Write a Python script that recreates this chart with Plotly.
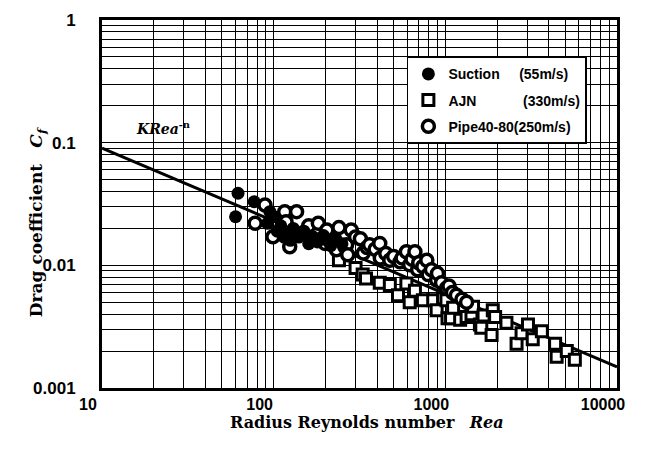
import numpy as np
import plotly.graph_objects as go

# ---------------- data ----------------
suction_re = [60, 62, 77, 95, 92, 100, 105, 110, 115, 120, 125, 130, 140, 150,
              160, 170, 180, 195, 205, 215, 230, 250]
suction_cf = [0.0249, 0.0387, 0.033, 0.0274, 0.022, 0.025, 0.019, 0.021, 0.017,
              0.0185, 0.016, 0.020, 0.017, 0.019, 0.015, 0.017, 0.0155, 0.0175,
              0.016, 0.0145, 0.0165, 0.015]

ajn_re = [240, 300, 330, 345, 415, 475, 530, 593, 620, 665, 740, 850, 890, 970,
          1015, 1030, 1080, 1110, 1220, 1330, 1420, 1450, 1590, 1620, 1670, 1860,
          1890, 1950, 2270, 2600, 2780, 3030, 3230, 3650, 4360, 4450, 5100, 5680]
ajn_cf = [0.011, 0.0095, 0.0084, 0.0078, 0.0072, 0.0069, 0.0057, 0.0071, 0.005,
          0.0062, 0.0052, 0.0052, 0.0043, 0.0054, 0.0052, 0.0037, 0.0037, 0.0045,
          0.0036, 0.0038, 0.0040, 0.0046, 0.0033, 0.0031, 0.0039, 0.0027, 0.0043,
          0.0038, 0.0034, 0.0023, 0.0028, 0.0033, 0.0025, 0.0029, 0.0023, 0.0018,
          0.0020, 0.0017]

pipe_re = [78, 89, 99, 116, 118, 124, 136, 152, 160, 182, 199, 204, 232, 240,
           260, 266, 270, 283, 300, 320, 333, 350, 362, 390, 415, 418, 450, 475,
           500, 545, 560, 593, 620, 640, 665, 690, 700, 740, 780, 795, 830, 890,
           900, 950, 1015, 1050, 1100, 1160, 1250, 1330]
pipe_cf = [0.022, 0.031, 0.0171, 0.0274, 0.0227, 0.0142, 0.0274, 0.0188, 0.021,
           0.022, 0.0151, 0.0194, 0.0134, 0.0203, 0.0142, 0.0147, 0.0122, 0.0194,
           0.017, 0.0165, 0.0126, 0.014, 0.0147, 0.0135, 0.0151, 0.0115, 0.0125,
           0.011, 0.0118, 0.0107, 0.0115, 0.0129, 0.0101, 0.0112, 0.0129, 0.0092,
           0.0105, 0.0098, 0.011, 0.0084, 0.0092, 0.0076, 0.0086, 0.0072, 0.0065,
           0.0068, 0.006, 0.0057, 0.0053, 0.0050]

# fitted curve  Cf = K * Rea^-n
K = 0.356
n_exp = 0.595
line_re = [10, 10000]

NB = "\u00a0"
x_ticks = [10, 100, 1000, 10000]
x_ticktext = ["10", "100", "1000", "10000"]
y_ticks = [0.001, 0.01, 0.1, 1]
y_ticktext = ["0.001", "0.01", "0.1", "1"]

legend_names = ["Suction" + NB * 5 + "(55m/s)",
                "AJN" + NB * 12 + "(330m/s)",
                "Pipe40-80(250m/s)"]

# ---------------- figure ----------------
line_cf = [K * r ** (-n_exp) for r in line_re]

fig = go.Figure()
fig.add_trace(go.Scatter(x=line_re, y=line_cf, mode="lines",
                         line=dict(color="black", width=3), showlegend=False,
                         hoverinfo="skip"))
fig.add_trace(go.Scatter(x=ajn_re, y=ajn_cf, mode="markers", name=legend_names[1],
                         legendrank=2, legendgroup="b",
                         marker=dict(symbol="square", size=11, color="white",
                                     line=dict(color="black", width=3))))
fig.add_trace(go.Scatter(x=pipe_re, y=pipe_cf, mode="markers", name=legend_names[2],
                         legendrank=3, legendgroup="c",
                         marker=dict(symbol="circle", size=12, color="white",
                                     line=dict(color="black", width=3.5))))
fig.add_trace(go.Scatter(x=suction_re, y=suction_cf, mode="markers", name=legend_names[0],
                         legendrank=1, legendgroup="a",
                         marker=dict(symbol="circle", size=13, color="black",
                                     line=dict(color="black", width=0))))

grid_w = 1.4
axis_common = dict(
    type="log", showgrid=True, gridcolor="black", gridwidth=grid_w,
    showline=True, linecolor="black", linewidth=3, mirror=True,
    ticks="", zeroline=False,
    minor=dict(dtick="D1", showgrid=True, gridcolor="black", gridwidth=grid_w, ticks=""),
)
tick_font = dict(family="Liberation Sans, Arial", size=17, color="black", weight="bold")

fig.update_xaxes(**axis_common, range=[1, 4], tickmode="array",
                 tickvals=x_ticks, ticktext=x_ticktext, ticklabelstandoff=0,
                 ticklabelshift=-14, tickfont=dict(tick_font, size=16))
fig.update_yaxes(**axis_common, range=[-3, 0], tickmode="array",
                 tickvals=y_ticks, ticktext=y_ticktext, ticklabelstandoff=20,
                 tickfont=tick_font)

serif = "DejaVu Serif, Liberation Serif, serif"
fig.add_annotation(xref="paper", yref="paper", x=0.515, y=-0.093,
                   xanchor="center", yanchor="middle", showarrow=False,
                   text="<b>Radius Reynolds number</b>" + NB * 3 + "<b><i>Rea</i></b>",
                   font=dict(family=serif, size=16, color="black"))
fig.add_annotation(xref="paper", yref="paper", x=-0.126, y=0.451,
                   xanchor="center", yanchor="middle", showarrow=False, textangle=-90,
                   text="<b>Drag coefficient</b>" + NB * 3 + "<b><i>C<sub>f</sub></i></b>",
                   font=dict(family=serif, size=17, color="black"))
fig.add_annotation(xref="paper", yref="paper", x=0.062, y=0.707,
                   xanchor="left", yanchor="middle", showarrow=False,
                   text="<b><i>KRea</i></b><sup><b>-n</b></sup>",
                   font=dict(family=serif, size=14, color="black"))

fig.update_layout(
    width=660, height=454,
    margin=dict(l=102, r=43, t=20, b=66),
    paper_bgcolor="white", plot_bgcolor="white",
    legend=dict(x=0.592, y=0.9, xanchor="left", yanchor="top",
                bgcolor="white", bordercolor="black", borderwidth=1.5,
                traceorder="grouped", tracegroupgap=5,
                font=dict(family="Liberation Sans, Arial", size=14, color="black",
                          weight="bold")),
    showlegend=True,
)

fig.write_html("out.html")
